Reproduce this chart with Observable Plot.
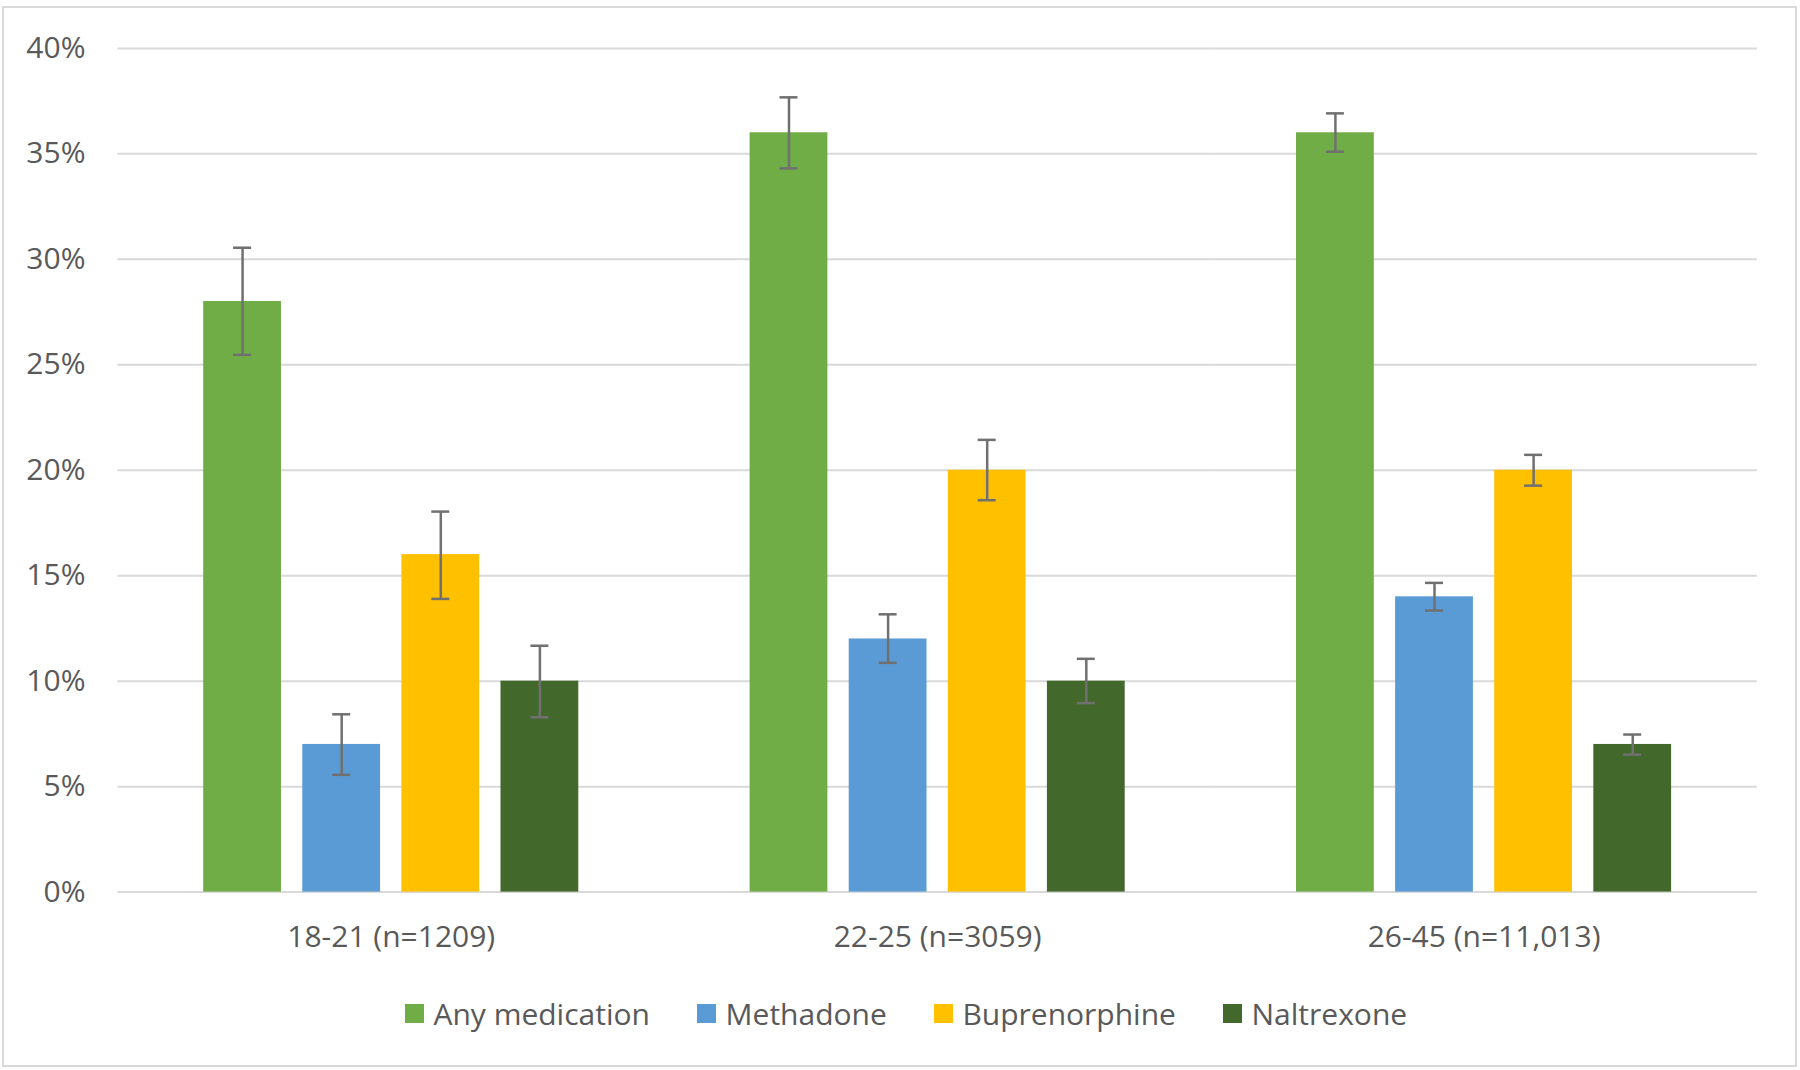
<!DOCTYPE html>
<html><head><meta charset="utf-8">
<script src="https://cdn.jsdelivr.net/npm/d3@7"></script>
<script src="https://cdn.jsdelivr.net/npm/@observablehq/plot@0.6"></script>
<style>
html,body{margin:0;padding:0;background:#fff;}
#wrap{position:relative;width:1800px;height:1070px;overflow:hidden;font-family:"Open Sans",sans-serif;}
#frame{position:absolute;left:2px;top:6px;width:1795px;height:1061px;border:2px solid #d9d9d9;box-sizing:border-box;pointer-events:none;}
#chart{position:absolute;left:0;top:0;}
#legend{position:absolute;left:0;top:993px;width:1812px;height:40px;display:flex;justify-content:center;align-items:center;font-size:30px;color:#595959;font-family:"Open Sans",sans-serif;}
.item{display:flex;align-items:center;margin:0 23.5px;white-space:nowrap;}
.sw{width:19px;height:19px;margin-right:9.6px;flex:none;}
</style></head><body>
<div id="wrap"><div id="chart"></div><div id="legend"></div><div id="frame"></div></div>
<script>
// Categories and series
const groups = ["18-21 (n=1209)", "22-25 (n=3059)", "26-45 (n=11,013)"];
const series = ["Any medication", "Methadone", "Buprenorphine", "Naltrexone"];
const colors = ["#70AD47", "#5B9BD5", "#FFC000", "#43682B"];

// Values (%), one per group
const anyMedication = [28, 36, 36];
const methadone     = [7, 12, 14];
const buprenorphine = [16, 20, 20];
const naltrexone    = [10, 10, 7];

// Error bar lower / upper bounds (%)
const anyMedicationLo = [25.47, 34.31, 35.10];
const anyMedicationHi = [30.55, 37.68, 36.92];
const methadoneLo     = [5.56, 10.87, 13.35];
const methadoneHi     = [8.43, 13.17, 14.66];
const buprenorphineLo = [13.90, 18.58, 19.27];
const buprenorphineHi = [18.04, 21.44, 20.73];
const naltrexoneLo    = [8.29, 8.96, 6.52];
const naltrexoneHi    = [11.68, 11.06, 7.47];

// Y tick values
const yTicks = [0, 0.05, 0.10, 0.15, 0.20, 0.25, 0.30, 0.35, 0.40];

const vals = [anyMedication, methadone, buprenorphine, naltrexone];
const los = [anyMedicationLo, methadoneLo, buprenorphineLo, naltrexoneLo];
const his = [anyMedicationHi, methadoneHi, buprenorphineHi, naltrexoneHi];

const rows = groups.flatMap((g, i) => series.map((s, j) => ({
  group: g, series: s, value: vals[j][i] / 100, lo: los[j][i] / 100, hi: his[j][i] / 100
})));

const errColor = "#707070";
const chart = Plot.plot({
  width: 1800,
  height: 965,
  marginLeft: 117.5,
  marginRight: 43.2,
  marginTop: 47.9,
  marginBottom: 73.4,
  style: {fontFamily: "'Open Sans', sans-serif", fontSize: "30px", color: "#595959", background: "transparent", overflow: "visible"},
  fx: {domain: groups, paddingInner: 0.3135, paddingOuter: 0.1568, round: false, label: null, axis: "bottom", tickSize: 0, tickPadding: 34},
  x: {domain: series, paddingInner: 0.215, paddingOuter: 0, round: false, axis: null},
  y: {domain: [0, 0.4], ticks: yTicks, tickFormat: d3.format(".0%"), tickSize: 0, tickPadding: 118.2, label: null},
  color: {domain: series, range: colors},
  marks: [
    Plot.ruleY(yTicks, {stroke: "#d9d9d9", strokeWidth: 2, insetLeft: -85.7, insetRight: -85.7}),
    Plot.barY(rows, {fx: "group", x: "series", y: "value", fill: "series"}),
    Plot.ruleX(rows, {fx: "group", x: "series", y1: "lo", y2: "hi", stroke: errColor, strokeWidth: 2.5}),
    Plot.tickY(rows, {fx: "group", x: "series", y: "lo", stroke: errColor, strokeWidth: 2.5, insetLeft: 29.9, insetRight: 29.9}),
    Plot.tickY(rows, {fx: "group", x: "series", y: "hi", stroke: errColor, strokeWidth: 2.5, insetLeft: 29.9, insetRight: 29.9})
  ]
});
document.getElementById("chart").appendChild(chart);

// Legend
const legend = document.getElementById("legend");
series.forEach((s, i) => {
  const item = document.createElement("div");
  item.className = "item";
  const sw = document.createElement("div");
  sw.className = "sw";
  sw.style.background = colors[i];
  const label = document.createElement("span");
  label.textContent = s;
  item.appendChild(sw);
  item.appendChild(label);
  legend.appendChild(item);
});
</script></body></html>
